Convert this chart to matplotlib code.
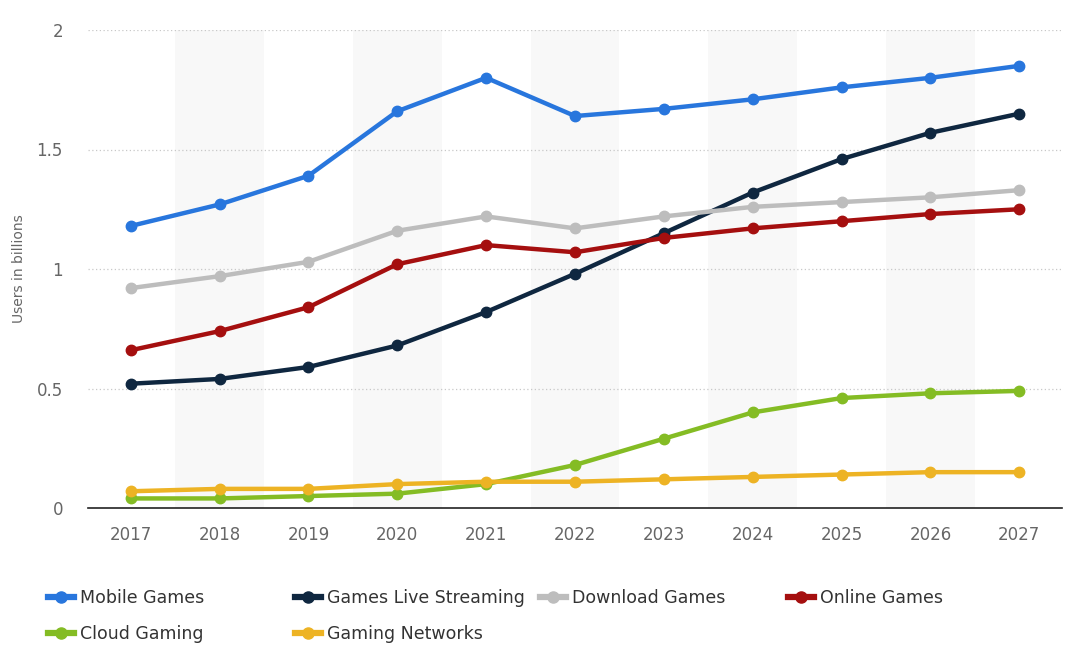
import matplotlib
matplotlib.use('Agg')
import matplotlib.pyplot as plt
from matplotlib.lines import Line2D

years = [2017, 2018, 2019, 2020, 2021, 2022, 2023, 2024, 2025, 2026, 2027]

mobile_games = [1.18, 1.27, 1.39, 1.66, 1.80, 1.64, 1.67, 1.71, 1.76, 1.80, 1.85]
live_streaming = [0.52, 0.54, 0.59, 0.68, 0.82, 0.98, 1.15, 1.32, 1.46, 1.57, 1.65]
download_games = [0.92, 0.97, 1.03, 1.16, 1.22, 1.17, 1.22, 1.26, 1.28, 1.30, 1.33]
online_games = [0.66, 0.74, 0.84, 1.02, 1.10, 1.07, 1.13, 1.17, 1.20, 1.23, 1.25]
cloud_gaming = [0.04, 0.04, 0.05, 0.06, 0.10, 0.18, 0.29, 0.40, 0.46, 0.48, 0.49]
gaming_networks = [0.07, 0.08, 0.08, 0.10, 0.11, 0.11, 0.12, 0.13, 0.14, 0.15, 0.15]

series = [
    ("Mobile Games", mobile_games, "#2876dd"),
    ("Games Live Streaming", live_streaming, "#0f2740"),
    ("Download Games", download_games, "#bdbdbd"),
    ("Online Games", online_games, "#a50f0f"),
    ("Cloud Gaming", cloud_gaming, "#84bc24"),
    ("Gaming Networks", gaming_networks, "#edb324"),
]

y_ticks = [0, 0.5, 1, 1.5, 2]
y_tick_labels = ["0", "0.5", "1", "1.5", "2"]

plt.rcParams['font.family'] = ['DejaVu Sans']

fig = plt.figure(figsize=(10.69, 6.45), dpi=100)
ax = fig.add_axes([88 / 1069, 1 - 508 / 645, (1062 - 88) / 1069, (508 - 30) / 645])

# alternating shaded bands on even years
for yr in years:
    if yr % 2 == 0:
        ax.axvspan(yr - 0.5, yr + 0.5, color="#f8f8f8", zorder=0, lw=0)

for yv in y_ticks[1:]:
    ax.axhline(yv, color="#c8c8c8", lw=0.9, ls=(0, (1, 2)), zorder=1)

for name, vals, col in series:
    ax.plot(years, vals, color=col, lw=3.2, marker="o", markersize=7.5,
            solid_capstyle="round", zorder=3)

ax.set_xlim(2016.52, 2027.48)
ax.set_ylim(0, 2)
ax.set_xticks(years)
ax.set_xticklabels([str(y) for y in years])
ax.set_yticks(y_ticks)
ax.set_yticklabels(y_tick_labels)
ax.tick_params(axis="both", length=0, labelsize=12, labelcolor="#666666")
ax.tick_params(axis="x", pad=13)
ax.tick_params(axis="y", pad=18)
for s in ["top", "right", "left"]:
    ax.spines[s].set_visible(False)
ax.spines["bottom"].set_color("#222222")
ax.spines["bottom"].set_linewidth(1.2)
ax.set_ylabel("Users in billions", fontsize=10, color="#666666")
ax.yaxis.set_label_coords(-0.064, 0.5)

# legend: 4 columns on a fixed grid, 2 rows
columns = [
    (48, ["Mobile Games", "Cloud Gaming"]),
    (295, ["Games Live Streaming", "Gaming Networks"]),
    (540, ["Download Games"]),
    (788, ["Online Games"]),
]
colors = {n: c for n, _, c in series}
for x0, names in columns:
    hs = [Line2D([], [], color=colors[n], lw=4.5, marker="o", markersize=8) for n in names]
    fig.legend(hs, names, loc="upper left", bbox_to_anchor=(x0 / 1069, 1 - 589 / 645),
               frameon=False, fontsize=12.5, handlelength=1.5, handletextpad=0.35,
               labelspacing=1.05, borderpad=0, borderaxespad=0, labelcolor="#333333")

fig.savefig("out.png", dpi=100, facecolor="white")
